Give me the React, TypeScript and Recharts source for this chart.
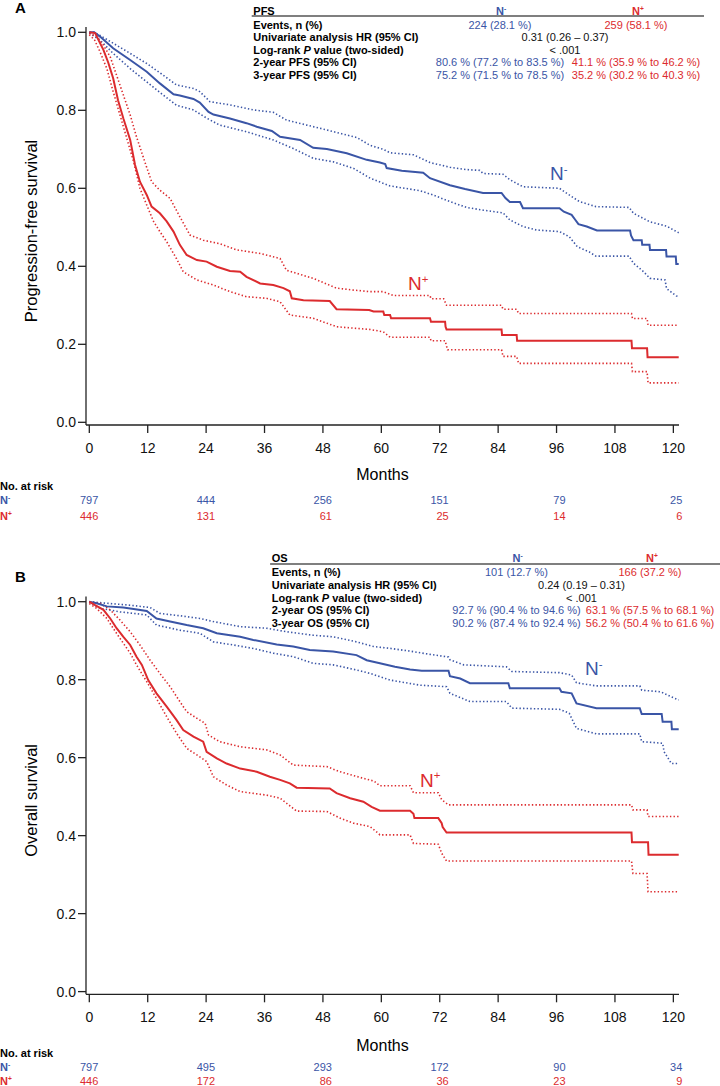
import React from 'react';
import { LineChart, Line, XAxis, YAxis } from 'recharts';

const BLUE = '#3a55a6';
const RED = '#dc2b2e';
const FONT = '"Liberation Sans", Arial, sans-serif';

type Pt = [number, number];

const monthTicks = [0, 12, 24, 36, 48, 60, 72, 84, 96, 108, 120];
const survTicks = [0, 0.2, 0.4, 0.6, 0.8, 1.0];

// number at risk, read at these months
const riskMonths = [0, 24, 48, 72, 96, 120];
const pfsRiskNeg = [797, 444, 256, 151, 79, 25];
const pfsRiskPos = [446, 131, 61, 25, 14, 6];
const osRiskNeg = [797, 495, 293, 172, 90, 34];
const osRiskPos = [446, 172, 86, 36, 23, 9];

// Kaplan-Meier curves, [month, survival]
const pfsNeg: Pt[] = [
  [0, 1], [1, 1], [2.2, 0.989], [4.9, 0.959], [8.4, 0.929], [11.8, 0.899], [14.5, 0.869], [17.3, 0.841],
  [18.6, 0.838], [21.4, 0.829], [22.7, 0.82], [24.5, 0.796], [25.5, 0.789], [28.9, 0.779], [32.3, 0.767],
  [34.4, 0.758], [37.5, 0.747], [39.2, 0.732], [43.3, 0.724], [46, 0.704], [48.8, 0.701], [52.9, 0.69],
  [57, 0.673], [59.7, 0.666], [60.8, 0.662], [61.1, 0.652], [64.2, 0.645], [68.6, 0.64], [70, 0.626],
  [74.1, 0.608], [77.2, 0.598], [80.9, 0.588], [84.7, 0.588], [85.5, 0.575], [86.4, 0.565], [88.5, 0.565],
  [89.1, 0.549], [96.6, 0.549], [97.5, 0.54], [99.1, 0.532], [99.8, 0.52], [100.5, 0.508], [102.2, 0.502],
  [104.3, 0.492], [111.1, 0.492], [111.3, 0.479], [111.8, 0.467], [113.5, 0.467], [113.6, 0.455],
  [115.1, 0.455], [115.2, 0.442], [118.5, 0.442], [118.6, 0.425], [120.5, 0.425], [120.6, 0.406], [121.1, 0.406],
];
const pfsNegHi: Pt[] = [
  [0, 1], [1, 1], [2.2, 0.992], [4.9, 0.972], [8.4, 0.946], [11.8, 0.92], [15.2, 0.89], [17.9, 0.865],
  [21.4, 0.856], [22.7, 0.848], [24.8, 0.822], [28.9, 0.814], [33.7, 0.801], [37.8, 0.795], [40.5, 0.775],
  [44.7, 0.762], [47.4, 0.754], [51.5, 0.741], [55, 0.73], [57.7, 0.71], [60.4, 0.7], [61.8, 0.691],
  [66.6, 0.686], [70, 0.666], [74.1, 0.654], [77.5, 0.648], [80.2, 0.646], [80.9, 0.638], [85, 0.636],
  [86.4, 0.622], [89.1, 0.604], [96.6, 0.6], [98.6, 0.583], [100.7, 0.566], [104.1, 0.553], [110.9, 0.551],
  [111.8, 0.536], [115.2, 0.514], [118.6, 0.503], [121.1, 0.486],
];
const pfsNegLo: Pt[] = [
  [0, 0.998], [2.2, 0.98], [4.9, 0.946], [8.4, 0.907], [11.8, 0.873], [15.2, 0.839], [17.9, 0.813],
  [21.4, 0.801], [24.1, 0.78], [26.8, 0.762], [32.3, 0.745], [37.8, 0.724], [41.9, 0.702], [46, 0.677],
  [50.1, 0.668], [54.3, 0.651], [57.7, 0.626], [61.8, 0.606], [67.9, 0.594], [70.6, 0.583], [74.1, 0.566],
  [77.5, 0.551], [80.9, 0.544], [85, 0.537], [86.4, 0.519], [89.1, 0.502], [91.9, 0.493], [96.6, 0.489],
  [98.6, 0.476], [100.3, 0.45], [102.7, 0.437], [104.1, 0.426], [110.9, 0.426], [111.8, 0.408],
  [113.9, 0.386], [115.2, 0.369], [118.3, 0.365], [118.6, 0.343], [120.6, 0.324], [121.1, 0.324],
];
const pfsPos: Pt[] = [
  [0, 1], [1.2, 0.998], [1.9, 0.98], [2.9, 0.955], [3.9, 0.922], [4.9, 0.882], [5.9, 0.826], [7, 0.779],
  [8.4, 0.724], [9.4, 0.66], [10.4, 0.617], [11.8, 0.583], [12.8, 0.553], [14.5, 0.536], [15.9, 0.515],
  [17.3, 0.489], [18.6, 0.455], [20, 0.429], [22.1, 0.416], [24.1, 0.412], [26.2, 0.399], [28.9, 0.388],
  [31, 0.386], [32.3, 0.373], [35.1, 0.356], [37.8, 0.352], [39.9, 0.344], [41.2, 0.336], [41.6, 0.318],
  [44, 0.313], [49.4, 0.311], [50.8, 0.29], [57.5, 0.288], [58.4, 0.284], [60.4, 0.284], [60.6, 0.275],
  [61.8, 0.275], [62, 0.267], [70, 0.267], [70.2, 0.258], [73.1, 0.258], [73.2, 0.245], [73.4, 0.238],
  [84.7, 0.238], [84.8, 0.224], [87.8, 0.224], [87.9, 0.209], [111.4, 0.209], [111.5, 0.19], [114.6, 0.19],
  [114.7, 0.167], [121.1, 0.167],
];
const pfsPosHi: Pt[] = [
  [0, 0.998], [1.5, 0.989], [2.9, 0.967], [4.3, 0.937], [5.6, 0.89], [7, 0.839], [8.4, 0.788], [9.7, 0.732],
  [11.4, 0.668], [12.8, 0.617], [14.5, 0.595], [16.6, 0.574], [18.6, 0.527], [20.7, 0.48], [23.4, 0.467],
  [26.8, 0.458], [30.3, 0.442], [35.1, 0.433], [39.2, 0.42], [40.5, 0.39], [46, 0.369], [50.8, 0.344],
  [54.3, 0.339], [57.7, 0.335], [60.4, 0.335], [62.5, 0.325], [70, 0.325], [70.2, 0.317], [72.8, 0.317],
  [73.4, 0.3], [84.7, 0.3], [85, 0.29], [87.8, 0.29], [88.2, 0.279], [111.4, 0.279], [111.6, 0.266],
  [114.6, 0.266], [114.8, 0.249], [121.1, 0.249],
];
const pfsPosLo: Pt[] = [
  [0, 0.994], [1.1, 0.98], [2.2, 0.95], [3.6, 0.907], [4.9, 0.848], [6.3, 0.788], [7.7, 0.728], [9.1, 0.668],
  [10.4, 0.6], [11.8, 0.557], [13.2, 0.515], [14.5, 0.489], [15.9, 0.463], [17.9, 0.42], [19.3, 0.386],
  [22.1, 0.365], [25.5, 0.352], [28.9, 0.335], [32.3, 0.322], [36.4, 0.318], [39.2, 0.309], [41.2, 0.275],
  [46, 0.267], [50.8, 0.245], [57.7, 0.238], [60.4, 0.232], [61.8, 0.218], [70, 0.218], [70.2, 0.209],
  [73.1, 0.209], [73.6, 0.186], [84.7, 0.186], [85, 0.169], [87.8, 0.169], [88.2, 0.151], [111.4, 0.151],
  [111.6, 0.13], [114.6, 0.13], [114.8, 0.101], [121.1, 0.101],
];

const osNeg: Pt[] = [
  [0, 1], [1.5, 0.996], [3.6, 0.988], [7, 0.985], [9.1, 0.981], [11.8, 0.976], [13.8, 0.957], [16.6, 0.949],
  [20, 0.94], [23.4, 0.932], [26.2, 0.919], [31, 0.91], [33.7, 0.902], [38.5, 0.89], [41.9, 0.885],
  [45.3, 0.876], [50.1, 0.872], [54.9, 0.863], [57, 0.85], [59.7, 0.842], [62.8, 0.833], [65.9, 0.826],
  [68.3, 0.823], [73.8, 0.823], [74.1, 0.809], [76.2, 0.803], [78.2, 0.791], [86.1, 0.791], [86.4, 0.778],
  [96.6, 0.778], [97, 0.769], [99.1, 0.765], [100.1, 0.739], [104.2, 0.727], [113.1, 0.727], [113.5, 0.712],
  [117.6, 0.712], [117.8, 0.692], [119.6, 0.692], [119.7, 0.673], [121.1, 0.673],
];
const osNegHi: Pt[] = [
  [0, 1], [3.6, 0.996], [8.4, 0.991], [12.5, 0.985], [14.5, 0.97], [18.6, 0.964], [22.7, 0.957],
  [25.5, 0.949], [31, 0.936], [36.4, 0.932], [40.5, 0.923], [46, 0.914], [50.1, 0.91], [54.9, 0.897],
  [58.4, 0.885], [62, 0.88], [66, 0.873], [70, 0.865], [73.8, 0.858], [74.1, 0.851], [76.9, 0.838],
  [85.7, 0.833], [86.8, 0.821], [96.6, 0.818], [99.1, 0.812], [100.1, 0.792], [104.2, 0.784], [113.1, 0.784],
  [113.5, 0.773], [117.4, 0.769], [119.6, 0.756], [121.1, 0.748],
];
const osNegLo: Pt[] = [
  [0, 0.998], [2.2, 0.983], [6.3, 0.974], [11.8, 0.966], [13.8, 0.94], [18.6, 0.927], [22.7, 0.919],
  [25.5, 0.897], [29.6, 0.889], [33.7, 0.88], [37.8, 0.868], [41.9, 0.859], [46, 0.842], [50.1, 0.838],
  [54.9, 0.825], [57.7, 0.816], [61.8, 0.799], [67.9, 0.786], [73.4, 0.782], [74.1, 0.765], [78.2, 0.744],
  [85.7, 0.744], [86.8, 0.727], [96.6, 0.724], [98.6, 0.714], [100.1, 0.675], [104.2, 0.661], [113.1, 0.661],
  [113.5, 0.641], [117.8, 0.637], [118.1, 0.615], [119.6, 0.585], [121.1, 0.585],
];
const osPos: Pt[] = [
  [0, 1], [1.2, 0.991], [2.9, 0.979], [4.3, 0.957], [5.6, 0.932], [7, 0.91], [8.4, 0.889], [9.7, 0.859],
  [10.8, 0.838], [12.1, 0.799], [13.8, 0.765], [15.9, 0.731], [17.9, 0.697], [19.3, 0.671], [21.4, 0.654],
  [23.4, 0.641], [24.1, 0.615], [26.2, 0.598], [28.2, 0.585], [31, 0.572], [34.4, 0.564], [37.1, 0.551],
  [39.2, 0.543], [41.2, 0.534], [42.6, 0.523], [49.4, 0.521], [50.8, 0.509], [53.6, 0.496], [56.3, 0.487],
  [58, 0.474], [59.7, 0.464], [65.9, 0.464], [66.6, 0.456], [66.8, 0.445], [71.7, 0.445], [72.4, 0.432],
  [72.6, 0.422], [73.4, 0.408], [111.4, 0.408], [111.5, 0.383], [114.8, 0.383], [114.9, 0.351], [121.1, 0.351],
];
const osPosHi: Pt[] = [
  [0, 1], [2.2, 0.996], [4.3, 0.979], [6.3, 0.953], [8.4, 0.923], [10.4, 0.889], [12.5, 0.85], [14.5, 0.816],
  [16.6, 0.782], [18.6, 0.744], [20, 0.718], [22.1, 0.701], [23.8, 0.688], [24.5, 0.658], [26.8, 0.641],
  [31, 0.628], [36.4, 0.62], [39.2, 0.607], [41.9, 0.581], [48.8, 0.577], [51.5, 0.564], [56.3, 0.547],
  [58.5, 0.54], [59.7, 0.528], [65.9, 0.528], [66.6, 0.51], [71.7, 0.51], [72.4, 0.492], [73.8, 0.479],
  [111.4, 0.479], [111.7, 0.466], [114.6, 0.466], [114.8, 0.449], [121.1, 0.449],
];
const osPosLo: Pt[] = [
  [0, 0.995], [1.5, 0.983], [3.6, 0.957], [4.9, 0.932], [6.3, 0.906], [8.4, 0.868], [9.7, 0.838],
  [11.8, 0.795], [13.8, 0.752], [15.9, 0.705], [17.9, 0.663], [20, 0.624], [22.1, 0.607], [24.1, 0.59],
  [25.5, 0.551], [28.2, 0.53], [31, 0.513], [36.4, 0.504], [39.2, 0.496], [42.6, 0.463], [48.8, 0.462],
  [51.5, 0.445], [54.3, 0.432], [57.7, 0.423], [59.4, 0.406], [59.7, 0.402], [65.9, 0.402], [66.6, 0.38],
  [71.7, 0.378], [72.4, 0.355], [73.4, 0.335], [111.4, 0.335], [111.7, 0.303], [114.6, 0.303],
  [114.8, 0.256], [121.1, 0.256],
];

// summary tables: [label, N- value, N+ value] ; a single value spans both columns
const pfsRows = [
  ['Events, n (%)', '224 (28.1 %)', '259 (58.1 %)'],
  ['Univariate analysis HR (95% CI)', '0.31 (0.26 \u2013 0.37)'],
  ['Log-rank P value (two-sided)', '< .001'],
  ['2-year PFS (95% CI)', '80.6 % (77.2 % to 83.5 %)', '41.1 % (35.9 % to 46.2 %)'],
  ['3-year PFS (95% CI)', '75.2 % (71.5 % to 78.5 %)', '35.2 % (30.2 % to 40.3 %)'],
];
const osRows = [
  ['Events, n (%)', '101 (12.7 %)', '166 (37.2 %)'],
  ['Univariate analysis HR (95% CI)', '0.24 (0.19 \u2013 0.31)'],
  ['Log-rank P value (two-sided)', '< .001'],
  ['2-year OS (95% CI)', '92.7 % (90.4 % to 94.6 %)', '63.1 % (57.5 % to 68.1 %)'],
  ['3-year OS (95% CI)', '90.2 % (87.4 % to 92.4 %)', '56.2 % (50.4 % to 61.6 %)'],
];

const toRows = (pts: Pt[]) => pts.map(([m, v]) => ({ m, v }));

const NLabel = ({ x, y, sign, color, size, bold }: any) => (
  <text x={x} y={y} fill={color} fontSize={size} fontWeight={bold ? 'bold' : 'normal'}>
    N<tspan fontSize={size * 0.6} dy={-size * 0.38}>{sign}</tspan>
  </text>
);

const RiskTick = ({ x, y, payload, counts, color }: any) => {
  const i = riskMonths.indexOf(payload.value);
  return (
    <text x={x + 9} y={y + 7} dy="0.35em" textAnchor="end" fontSize={11} fill={color}>
      {counts[i]}
    </text>
  );
};

const TableRowLabel = ({ text, x, y }: any) => {
  if (text.startsWith('Log-rank P')) {
    return (
      <text x={x} y={y} dy="0.35em" fontSize={11} fontWeight="bold">
        Log-rank <tspan fontStyle="italic">P</tspan> value (two-sided)
      </text>
    );
  }
  return (
    <text x={x} y={y} dy="0.35em" fontSize={11} fontWeight="bold">{text}</text>
  );
};

const Panel = (props: any) => {
  const {
    top, height, marginTop, axisH, riskH, bottom, letter, yTitle, curves, riskNeg, riskPos,
    title, rows, tbl, labels, riskY, monthsY,
  } = props;
  const [neg, negHi, negLo, pos, posHi, posLo] = curves;
  const main = { strokeWidth: 2, dot: false, activeDot: false, isAnimationActive: false, type: 'linear' as const };
  const ci = { strokeWidth: 1.6, strokeDasharray: '1.4 2.2', dot: false, activeDot: false, isAnimationActive: false, type: 'linear' as const };
  const xDomain: [number, number] = [-0.68, 121.16];
  const titleY = marginTop + 204;
  return (
    <div style={{ position: 'absolute', left: 0, top, width: 720, height }}>
      <LineChart width={720} height={height} margin={{ top: marginTop, right: 41, bottom, left: 0 }}>
        <XAxis
          dataKey="m" type="number" domain={xDomain} allowDataOverflow ticks={monthTicks} interval={0}
          height={axisH} tickSize={8} tickMargin={10}
          tick={{ fill: '#111', fontSize: 14 }} stroke="#222" axisLine={{ stroke: '#222', strokeWidth: 1.3 }}
          tickLine={{ stroke: '#222', strokeWidth: 1.3 }}
        />
        <XAxis
          xAxisId="riskNeg" dataKey="m" type="number" domain={xDomain} allowDataOverflow ticks={riskMonths}
          interval={0} height={riskH} axisLine={false} tickLine={false} tickSize={0} tickMargin={0}
          tick={(p: any) => <RiskTick {...p} counts={riskNeg} color={BLUE} />}
        />
        <XAxis
          xAxisId="riskPos" dataKey="m" type="number" domain={xDomain} allowDataOverflow ticks={riskMonths}
          interval={0} height={6} axisLine={false} tickLine={false} tickSize={0} tickMargin={0}
          tick={(p: any) => <RiskTick {...p} counts={riskPos} color={RED} />}
        />
        <YAxis
          type="number" domain={[-0.0069, 1.0136]} allowDataOverflow ticks={survTicks} interval={0}
          tickFormatter={(v: number) => v.toFixed(1)} width={86} tickSize={8} tickMargin={2}
          tick={{ fill: '#111', fontSize: 14 }} axisLine={{ stroke: '#222', strokeWidth: 1.3 }}
          tickLine={{ stroke: '#222', strokeWidth: 1.3 }}
        />
        <Line data={toRows(negHi)} dataKey="v" stroke={BLUE} {...ci} />
        <Line data={toRows(negLo)} dataKey="v" stroke={BLUE} {...ci} />
        <Line data={toRows(posHi)} dataKey="v" stroke={RED} {...ci} />
        <Line data={toRows(posLo)} dataKey="v" stroke={RED} {...ci} />
        <Line data={toRows(neg)} dataKey="v" stroke={BLUE} {...main} />
        <Line data={toRows(pos)} dataKey="v" stroke={RED} {...main} />
      </LineChart>
      <svg width={720} height={height} style={{ position: 'absolute', left: 0, top: 0, pointerEvents: 'none' }}>
        <text x={15} y={marginTop - 14.3} fontSize={15} fontWeight="bold">{letter}</text>
        <text
          x={31} y={titleY} fontSize={16.5} textAnchor="middle" dy="0.35em"
          transform={`rotate(-90 31 ${titleY})`}
        >
          {yTitle}
        </text>
        <text x={382.5} y={monthsY} dy="0.35em" fontSize={16} textAnchor="middle">Months</text>
        <NLabel x={labels[0]} y={labels[1]} sign="-" color={BLUE} size={19} />
        <NLabel x={labels[2]} y={labels[3]} sign="+" color={RED} size={19} />

        <text x={0} y={riskY[0]} dy="0.35em" fontSize={11} fontWeight="bold">No. at risk</text>
        <NLabel x={0} y={riskY[1] + 4} sign="-" color={BLUE} size={11} bold />
        <NLabel x={0} y={riskY[2] + 4} sign="+" color={RED} size={11} bold />

        <text x={tbl.label} y={tbl.head} dy="0.35em" fontSize={11} fontWeight="bold">{title}</text>
        <NLabel x={tbl.neg - 4} y={tbl.head + 4} sign="-" color={BLUE} size={11} bold />
        <NLabel x={tbl.pos - 4} y={tbl.head + 4} sign="+" color={RED} size={11} bold />
        <line x1={tbl.label - 1.6} x2={tbl.lineEnd} y1={tbl.line} y2={tbl.line} stroke="#000" strokeWidth={1.1} />
        {rows.map((r: string[], i: number) => {
          const y = tbl.row0 + tbl.step * i;
          return (
            <g key={i}>
              <TableRowLabel text={r[0]} x={tbl.label} y={y} />
              {r.length === 2 ? (
                <text x={tbl.mid} y={y} dy="0.35em" fontSize={11} textAnchor="middle" fill="#111">{r[1]}</text>
              ) : (
                <>
                  <text x={tbl.neg} y={y} dy="0.35em" fontSize={11} textAnchor="middle" fill={BLUE}>{r[1]}</text>
                  <text x={tbl.pos} y={y} dy="0.35em" fontSize={11} textAnchor="middle" fill={RED}>{r[2]}</text>
                </>
              )}
            </g>
          );
        })}
      </svg>
    </div>
  );
};

export default function App() {
  return (
    <div style={{ position: 'absolute', left: 0, top: 0, width: 720, height: 1086, background: '#fff', fontFamily: FONT, overflow: 'hidden' }}>
      <Panel
        top={0} height={540} marginTop={27} axisH={68} riskH={15.7} bottom={25.3}
        letter="A" yTitle="Progression-free survival" title="PFS" rows={pfsRows}
        curves={[pfsNeg, pfsNegHi, pfsNegLo, pfsPos, pfsPosHi, pfsPosLo]}
        riskNeg={pfsRiskNeg} riskPos={pfsRiskPos}
        tbl={{ label: 253.3, neg: 500, mid: 565, pos: 636, head: 10.7, line: 16, lineEnd: 704, row0: 24.8, step: 12.6 }}
        labels={[550, 180, 408, 290]} riskY={[486, 500, 515.7]} monthsY={474}
      />
      <Panel
        top={540} height={546} marginTop={56.4} axisH={65.4} riskH={14} bottom={6.3}
        letter="B" yTitle="Overall survival" title="OS" rows={osRows}
        curves={[osNeg, osNegHi, osNegLo, osPos, osPosHi, osPosLo]}
        riskNeg={osRiskNeg} riskPos={osRiskPos}
        tbl={{ label: 271.7, neg: 516.5, mid: 581.5, pos: 650, head: 18.3, line: 24, lineEnd: 720, row0: 32.3, step: 12.7 }}
        labels={[585, 135, 420, 246.7]} riskY={[512.7, 526.7, 540.7]} monthsY={505}
      />
    </div>
  );
}
